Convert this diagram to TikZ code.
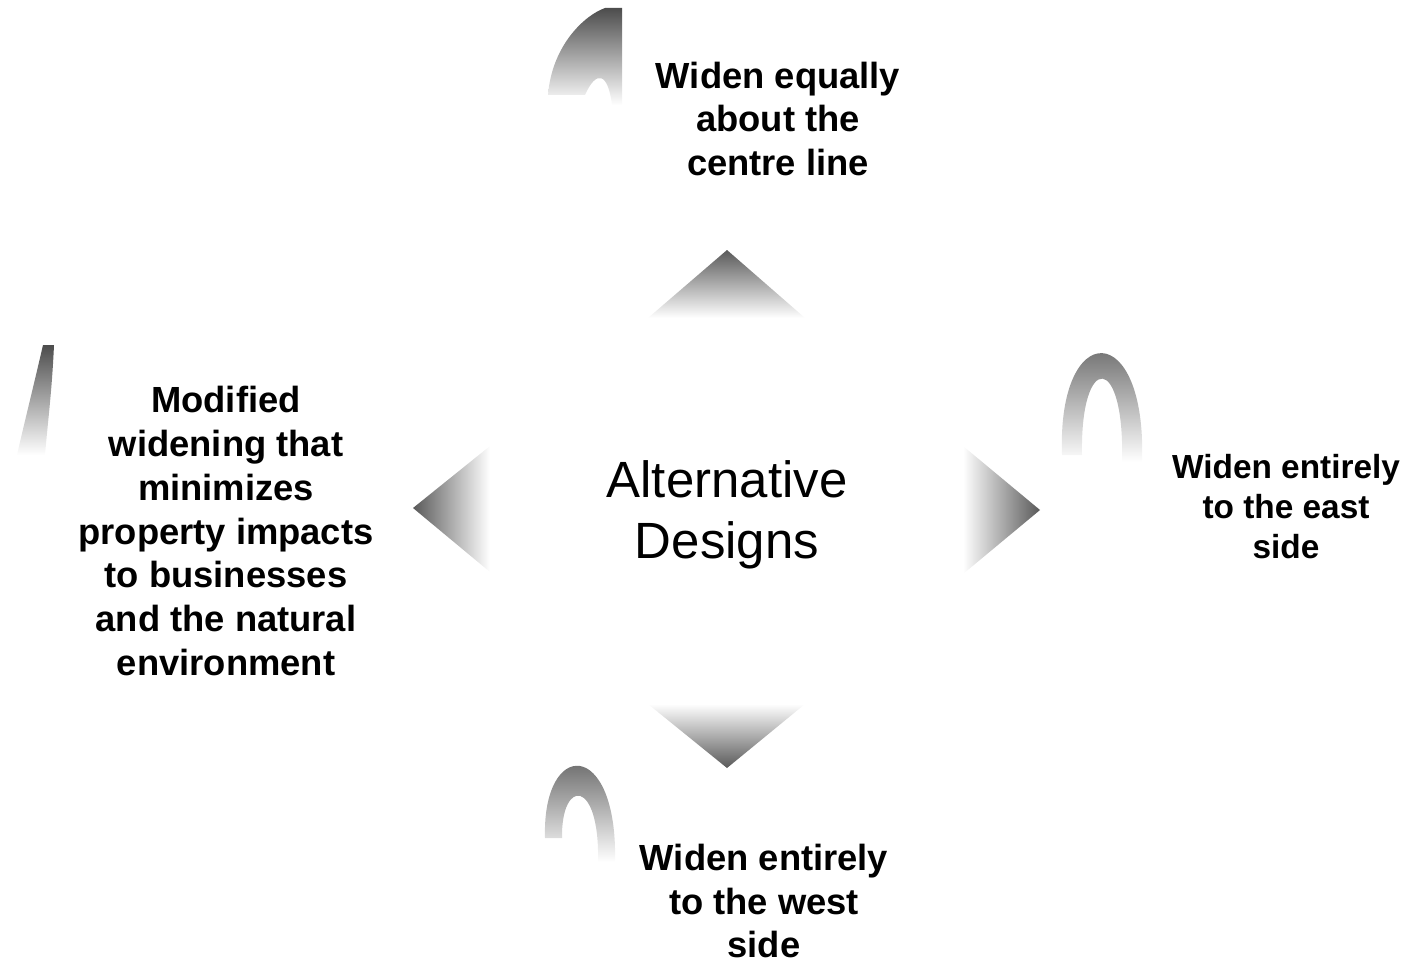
\documentclass[tikz,border=0pt]{standalone}
\usepackage{fontspec}
\setmainfont{Liberation Sans}
\usetikzlibrary{positioning}

\begin{document}
\begin{tikzpicture}[x=0.02cm, y=-0.02cm,
    choice/.style={align=center, inner sep=0pt, font=\bfseries\fontsize{20.7}{25}\selectfont},
    smallchoice/.style={align=center, inner sep=0pt, font=\bfseries\fontsize{19}{22.8}\selectfont},
    hub/.style={align=center, inner sep=0pt, font=\fontsize{29}{34.5}\selectfont}]
    \useasboundingbox (0,0) rectangle (1419,963);

    % Centre
    \node[hub] (designs) at (727,515) {Alternative\\Designs};

    % Options
    \node[choice] (centre) at (778,119) {Widen equally\\about the\\centre line};
    \node[choice] (modified) at (226,531) {Modified\\widening that\\minimizes\\property impacts\\to businesses\\and the natural\\environment};
    \node[smallchoice] (east) at (1286,507) {Widen entirely\\to the east\\side};
    \node[choice] (west) at (764,901) {Widen entirely\\to the west\\side};

    % Arrows
    \shade[top color=black!65, bottom color=white] (727,250) -- (805,318) -- (648,318) -- cycle;
    \shade[left color=black!65, right color=white] (413,508) -- (490,446) -- (490,572) -- cycle;
    \shade[left color=white, right color=black!65] (1040,510) -- (963,446) -- (963,574) -- cycle;
    \shade[top color=white, bottom color=black!65] (727,768) -- (648,704) -- (805,704) -- cycle;

    % Marks beside the options
    \shade[top color=black!70, bottom color=white]
        (548,95) .. controls (552,45) and (585,15) .. (605,8) -- (622,8) -- (622,105)
        -- (612,105) .. controls (608,72) and (596,70) .. (585,95) -- cycle;
    \shade[top color=black!70, bottom color=white]
        (43,345) -- (54,345) .. controls (52,390) and (48,420) .. (45,455)
        -- (17,455) .. controls (25,420) and (35,380) .. cycle;
    \shade[top color=black!70, bottom color=white]
        (1062,455) .. controls (1057,318) and (1147,318) .. (1142,462)
        -- (1122,462) .. controls (1125,352) and (1080,352) .. (1082,455) -- cycle;
    \shade[top color=black!70, bottom color=white]
        (545,838) .. controls (542,738) and (618,738) .. (615,862)
        -- (598,862) .. controls (600,778) and (561,778) .. (562,838) -- cycle;
\end{tikzpicture}
\end{document}
